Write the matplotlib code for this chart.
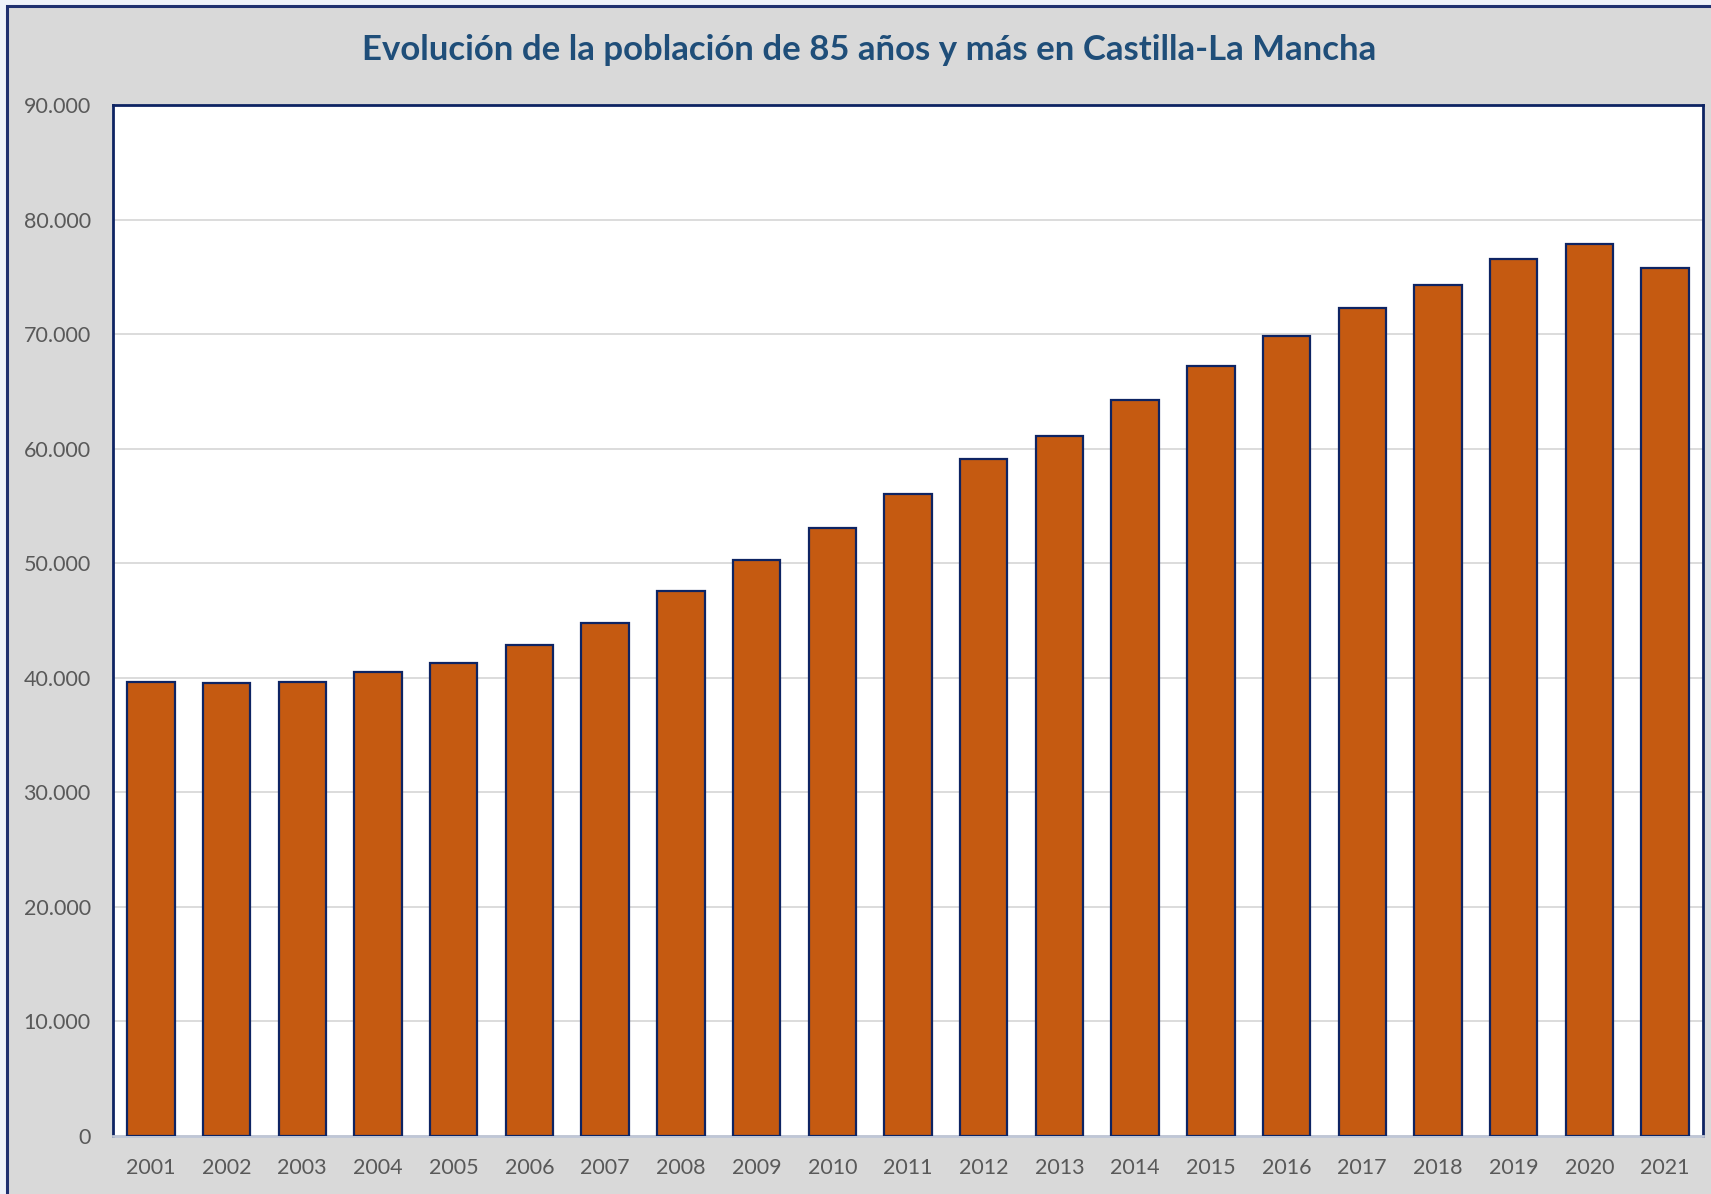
import numpy as np
import matplotlib.pyplot as plt
from matplotlib.patches import Rectangle
from matplotlib.ticker import FuncFormatter

years = [str(y) for y in range(2001, 2022)]
poblacion = [39600, 39550, 39650, 40500, 41300, 42900, 44800, 47600, 50300, 53100,
             56050, 59100, 61100, 64250, 67200, 69800, 72300, 74250, 76550, 77900, 75800]

title = 'Evolución de la población de 85 años y más en Castilla-La Mancha'

plt.rcParams['font.family'] = ['Lato', 'DejaVu Sans']

W, H = 1711, 1194
fig = plt.figure(figsize=(W / 100, H / 100), dpi=100)
fig.patch.set_facecolor('#EEF2FA')

# grey chart area with navy frame (behind the axes)
fig.patches.append(Rectangle((7 / W, -0.05), 1.1, 1 - 6 / H + 0.05, transform=fig.transFigure,
                             facecolor='#D9D9D9', edgecolor='#1F3070', linewidth=2.2, zorder=-10))

ax = fig.add_axes([113 / W, 1 - 1136 / H, (1703 - 113) / W, (1136 - 105) / H])
ax.set_facecolor('white')

x = np.arange(len(years))
ax.bar(x, poblacion, width=0.625, color='#C55A11', edgecolor='#0E2463', linewidth=1.6, zorder=3)

ax.set_xlim(-0.5, len(years) - 0.5)
ax.set_ylim(0, 90000)
ax.set_yticks(np.arange(0, 90001, 10000))
ax.yaxis.set_major_formatter(FuncFormatter(lambda v, p: f'{int(v):,}'.replace(',', '.')))
ax.set_xticks(x)
ax.set_xticklabels(years)

ax.grid(axis='y', color='#D9D9D9', linewidth=1.3, zorder=0)
ax.tick_params(axis='both', length=0, labelsize=15.5, labelcolor='#595959')
ax.tick_params(axis='y', pad=16)
ax.tick_params(axis='x', pad=16)

for side in ['left', 'top', 'right']:
    ax.spines[side].set_color('#0E2463')
    ax.spines[side].set_linewidth(2)
ax.spines['bottom'].set_color('#BFC6D6')
ax.spines['bottom'].set_linewidth(2)

fig.text(869 / W, 1 - 50 / H, title, ha='center', va='center', fontsize=25,
         fontweight='bold', color='#1F4E79')

fig.savefig('out.png', dpi=100)
